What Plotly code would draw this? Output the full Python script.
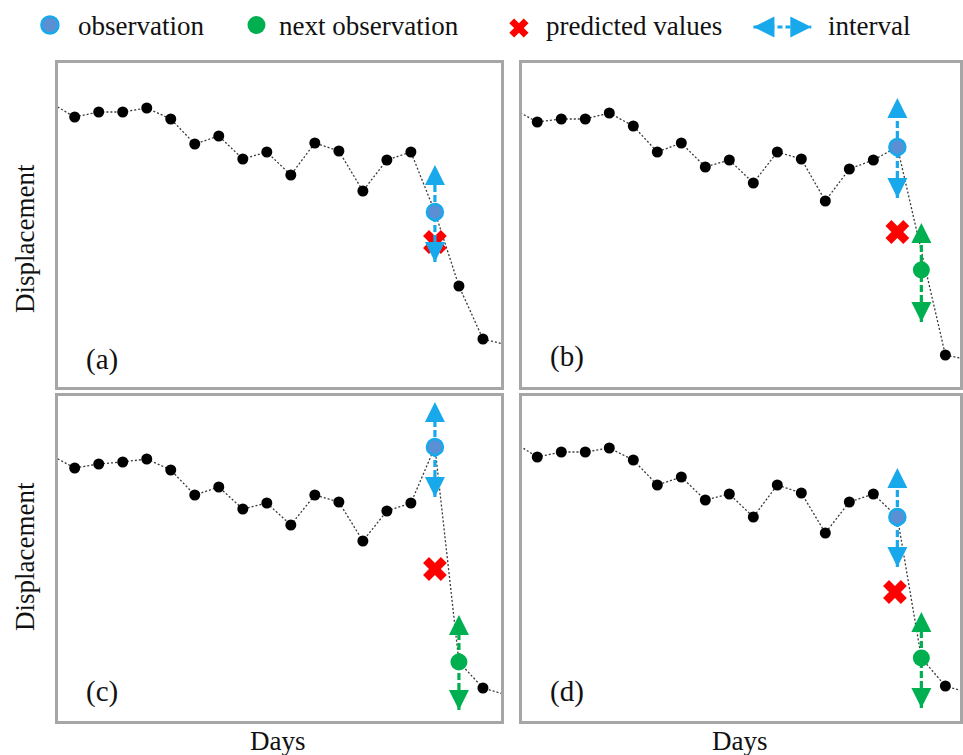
import plotly.graph_objects as go

# ---------------- data ----------------
days = list(range(0, 20))

# displacement series (days 0..19) for each panel
series_a = [28.4, 27.0, 27.5, 27.5, 27.9, 26.8, 24.3, 25.1, 22.8, 23.5, 21.2, 24.4, 23.6, 19.6, 22.7, 23.5, 17.5, 10.1, 4.8, 4.2]
series_b = [27.8, 26.5, 26.8, 26.8, 27.4, 26.1, 23.5, 24.4, 22.0, 22.7, 20.4, 23.5, 22.8, 18.6, 21.8, 22.7, 24.0, 13.6, 3.2, 2.7]
series_c = [26.6, 25.3, 25.7, 25.9, 26.2, 25.1, 22.6, 23.4, 21.2, 21.8, 19.6, 22.6, 21.9, 18.0, 21.0, 21.8, 27.4, 5.9, 3.3, 2.6]
series_d = [27.9, 26.4, 26.9, 26.9, 27.3, 26.1, 23.6, 24.4, 22.1, 22.7, 20.4, 23.6, 22.8, 18.8, 21.9, 22.7, 20.4, 6.3, 3.5, 2.8]

# days shown as black dots
black_days_a = [1, 2, 3, 4, 5, 6, 7, 8, 9, 10, 11, 12, 13, 14, 15, 17, 18]
black_days_b = [1, 2, 3, 4, 5, 6, 7, 8, 9, 10, 11, 12, 13, 14, 15, 18]
black_days_c = black_days_b
black_days_d = black_days_b

# observation (value, lower, upper) at day 16
obs_day = 16
obs_a = (17.5, 12.5, 22.2)
obs_b = (24.0, 18.9, 28.9)
obs_c = (27.4, 22.4, 31.9)
obs_d = (20.4, 15.4, 25.3)

# predicted values (day, value)
pred_a = (16.0, 14.5)
pred_b = (16.0, 15.5)
pred_c = (16.0, 15.2)
pred_d = (15.9, 12.9)

# next observation (value, lower, upper) at day 17; None = not shown
next_day = 17
next_a = None
next_b = (11.7, 6.5, 16.4)
next_c = (5.9, 1.1, 10.6)
next_d = (6.3, 1.3, 10.9)

panel_labels = ["(a)", "(b)", "(c)", "(d)"]
legend_labels = ["observation", "next observation", "predicted values", "interval"]

# ---------------- styles ----------------
W, H = 963, 755
FONT = "Liberation Serif, Times New Roman, serif"
BLUE = "#18a9ec"
BLUE_FILL = "#5b8fd4"
GREEN = "#00b050"
RED = "#ff0000"
BORDER = "#a6a6a6"

fig = go.Figure()

panels = [
    ("x", "y", series_a, black_days_a, obs_a, pred_a, next_a),
    ("x2", "y2", series_b, black_days_b, obs_b, pred_b, next_b),
    ("x3", "y3", series_c, black_days_c, obs_c, pred_c, next_c),
    ("x4", "y4", series_d, black_days_d, obs_d, pred_d, next_d),
]


def interval_trace(xa, ya, day, lo, hi, color):
    return go.Scatter(
        x=[day, day], y=[lo, hi], xaxis=xa, yaxis=ya, mode="lines+markers",
        line=dict(color=color, width=3.2, dash="7px,3px"),
        marker=dict(symbol=["arrow-down", "arrow-up"], size=20, color=color,
                    line=dict(width=0)),
        showlegend=False, hoverinfo="skip")


for xa, ya, ser, bdays, obs, pred, nxt in panels:
    # dotted series line
    fig.add_trace(go.Scatter(x=days, y=ser, xaxis=xa, yaxis=ya, mode="lines",
                             line=dict(color="#3a3a3a", width=1.3, dash="2px,2px"),
                             showlegend=False, hoverinfo="skip"))
    # black points
    fig.add_trace(go.Scatter(x=bdays, y=[ser[d] for d in bdays], xaxis=xa, yaxis=ya,
                             mode="markers", marker=dict(color="black", size=11),
                             showlegend=False))
    # predicted value
    fig.add_trace(go.Scatter(x=[pred[0]], y=[pred[1]], xaxis=xa, yaxis=ya, mode="markers",
                             marker=dict(symbol="x", size=21, color=RED, line=dict(width=0)),
                             showlegend=False))
    # observation interval + point
    fig.add_trace(interval_trace(xa, ya, obs_day, obs[1], obs[2], BLUE))
    fig.add_trace(go.Scatter(x=[obs_day], y=[obs[0]], xaxis=xa, yaxis=ya, mode="markers",
                             marker=dict(size=16, color=BLUE_FILL, line=dict(color=BLUE, width=2.5)),
                             showlegend=False))
    # next observation
    if nxt is not None:
        fig.add_trace(interval_trace(xa, ya, next_day, nxt[1], nxt[2], GREEN))
        fig.add_trace(go.Scatter(x=[next_day], y=[nxt[0]], xaxis=xa, yaxis=ya, mode="markers",
                                 marker=dict(size=17, color=GREEN, line=dict(width=0)),
                                 showlegend=False))

# ---------------- custom legend (overlay axis in pixel units) ----------------
fig.add_trace(go.Scatter(x=[50], y=[25], xaxis="x5", yaxis="y5", mode="markers",
                         marker=dict(size=17, color=BLUE_FILL, line=dict(color=BLUE, width=2.5)),
                         showlegend=False, hoverinfo="skip"))
fig.add_trace(go.Scatter(x=[257], y=[25], xaxis="x5", yaxis="y5", mode="markers",
                         marker=dict(size=18, color=GREEN, line=dict(width=0)),
                         showlegend=False, hoverinfo="skip"))
fig.add_trace(go.Scatter(x=[520], y=[28], xaxis="x5", yaxis="y5", mode="markers",
                         marker=dict(symbol="x", size=17, color=RED, line=dict(width=0)),
                         showlegend=False, hoverinfo="skip"))
fig.add_trace(go.Scatter(x=[755, 813], y=[27, 27], xaxis="x5", yaxis="y5", mode="lines+markers",
                         line=dict(color=BLUE, width=3.2, dash="5px,3px"),
                         marker=dict(symbol=["arrow-left", "arrow-right"], size=21, color=BLUE,
                                     line=dict(width=0)),
                         showlegend=False, hoverinfo="skip"))

annotations = []
for label, xpix in zip(legend_labels, [76, 278, 545, 828]):
    annotations.append(dict(text=label, x=xpix, y=26, xref="x5", yref="y5",
                            xanchor="left", yanchor="middle", showarrow=False,
                            font=dict(family=FONT, size=27, color="#111")))

# panel labels
label_pos = [(0.099, 0.085), (0.103, 0.094), (0.099, 0.09), (0.103, 0.09)]
for (xa, ya, *_), lab, (lx, ly) in zip(panels, panel_labels, label_pos):
    annotations.append(dict(text=lab, x=lx, y=ly, xref=f"{xa} domain", yref=f"{ya} domain",
                            xanchor="center", yanchor="middle", showarrow=False,
                            font=dict(family=FONT, size=29, color="#111")))

# axis titles
for yc in [238, 556]:
    annotations.append(dict(text="Displacement", x=25 / W, y=1 - yc / H, xref="paper", yref="paper",
                            textangle=-90, xanchor="center", yanchor="middle", showarrow=False,
                            font=dict(family=FONT, size=27, color="#111")))
for xc in [279, 742]:
    annotations.append(dict(text="Days", x=xc / W, y=1 - 741 / H, xref="paper", yref="paper",
                            xanchor="center", yanchor="middle", showarrow=False,
                            font=dict(family=FONT, size=27, color="#111")))

XRANGE_L = [0.3, 18.75]
XRANGE_R = [0.36, 18.61]
top = [(H - 387) / H, (H - 63) / H]
bot = [(H - 721) / H, (H - 396) / H]
left = [58 / W, 502 / W]
right = [523 / W, 962 / W]

ax_style = dict(showline=True, mirror=True, linecolor=BORDER, linewidth=2.5,
                showticklabels=False, ticks="", showgrid=False, zeroline=False, fixedrange=True)

fig.update_layout(
    width=W, height=H,
    margin=dict(l=0, r=0, t=0, b=0),
    paper_bgcolor="white", plot_bgcolor="white",
    font=dict(family=FONT),
    showlegend=False,
    xaxis=dict(domain=left, range=XRANGE_L, anchor="y", **ax_style),
    yaxis=dict(domain=top, range=[0, 32.4], anchor="x", **ax_style),
    xaxis2=dict(domain=right, range=XRANGE_R, anchor="y2", **ax_style),
    yaxis2=dict(domain=top, range=[0, 32.4], anchor="x2", **ax_style),
    xaxis3=dict(domain=left, range=XRANGE_L, anchor="y3", **ax_style),
    yaxis3=dict(domain=bot, range=[0, 32.5], anchor="x3", **ax_style),
    xaxis4=dict(domain=right, range=XRANGE_R, anchor="y4", **ax_style),
    yaxis4=dict(domain=bot, range=[0, 32.5], anchor="x4", **ax_style),
    xaxis5=dict(domain=[0, 1], range=[0, W], anchor="y5", visible=False, fixedrange=True),
    yaxis5=dict(domain=[(H - 55) / H, 1], range=[55, 0], anchor="x5", visible=False, fixedrange=True),
    annotations=annotations,
)

fig.write_html("out.html")
